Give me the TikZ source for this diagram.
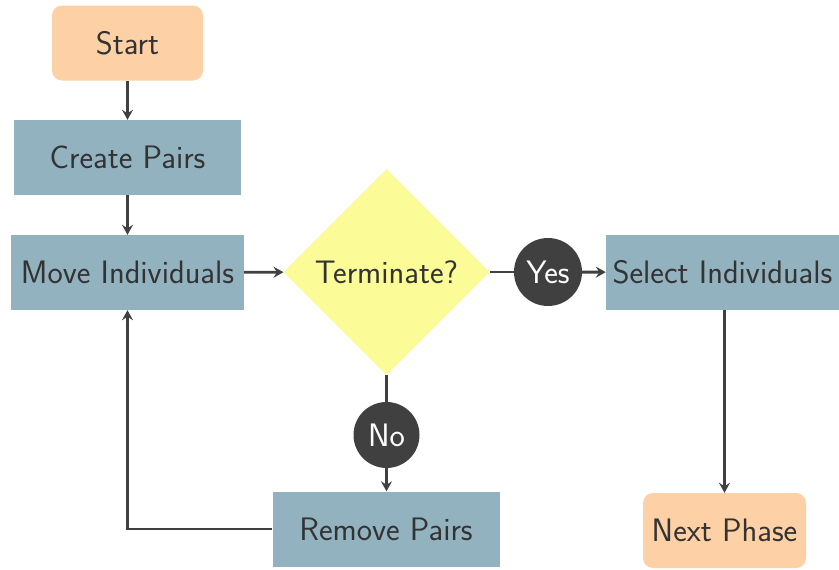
\documentclass[tikz,border=0pt]{standalone}
\usepackage{tikz}
\usetikzlibrary{shapes.geometric,arrows.meta}
\definecolor{peach}{HTML}{FDD0A5}
\definecolor{steel}{HTML}{93B2BF}
\definecolor{lemon}{HTML}{FBFB97}
\definecolor{ink}{HTML}{333333}
\definecolor{wire}{HTML}{404040}
\begin{document}
\begin{tikzpicture}[x=1pt,y=-1pt,
  every node/.style={font=\sffamily\fontsize{32.5}{38}\selectfont, text=ink, inner sep=0pt},
  terminal/.style={fill=peach, rounded corners=10pt, minimum height=75pt},
  process/.style={fill=steel, minimum height=75pt},
  decision/.style={diamond, fill=lemon, minimum width=206pt, minimum height=206pt, aspect=1},
  answer/.style={circle, fill=wire, text=white, minimum size=68pt},
  link/.style={draw=wire, line width=2.8pt},
  arrow/.style={link, -{Stealth[length=10pt,width=11pt,inset=3.5pt]}}]
\useasboundingbox (0,0) rectangle (839,570);
\node[terminal, minimum width=151pt] (start) at (127.5,43) {Start};
\node[process, minimum width=227pt] (create) at (127.5,157.5) {Create Pairs};
\node[process, minimum width=233pt] (move) at (127.5,272.5) {Move Individuals};
\node[decision] (term) at (386.5,272) {Terminate?};
\node[answer] (yes) at (548,272) {Yes};
\node[process, minimum width=233pt] (select) at (722.5,272.5) {Select Individuals};
\node[answer, minimum size=66pt] (no) at (386.5,435) {No};
\node[process, minimum width=227pt] (remove) at (386,529) {Remove Pairs};
\node[terminal, minimum width=163pt] (next) at (724.5,530.5) {Next Phase};
\coordinate (corner) at (127.5,529);
\draw[arrow] (start) -- (create);
\draw[arrow] (create) -- (move);
\draw[arrow] (move) -- (term);
\draw[link] (term) -- (yes);
\draw[arrow] (yes) -- (select);
\draw[link] (term.south) -- (no);
\draw[arrow] (no) -- (no |- remove.north);
\draw[arrow] (remove.west) -- (corner) -- (move.south);
\draw[arrow] (next |- select.south) -- (next);
\end{tikzpicture}
\end{document}
